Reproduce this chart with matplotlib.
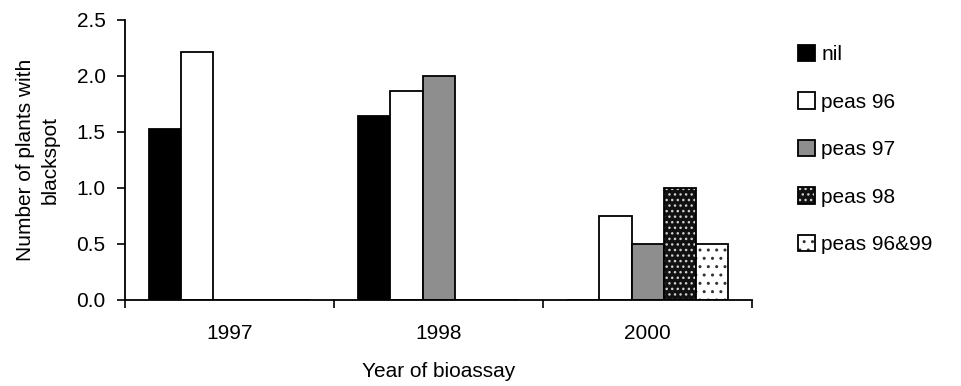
import matplotlib.pyplot as plt
from matplotlib.patches import Patch
import numpy as np

plt.rcParams['font.family'] = ['Liberation Sans', 'DejaVu Sans']
plt.rcParams['hatch.linewidth'] = 1.0

years = ['1997', '1998', '2000']
treatments = ['nil', 'peas 96', 'peas 97', 'peas 98', 'peas 96&99']

# mean number of plants with blackspot; 0 where the treatment was not in that bioassay
nil = [1.53, 1.64, 0.0]
peas96 = [2.21, 1.87, 0.75]
peas97 = [0.0, 2.0, 0.5]
peas98 = [0.0, 0.0, 1.0]
peas96_99 = [0.0, 0.0, 0.5]

series = [nil, peas96, peas97, peas98, peas96_99]
faces = ['black', 'white', '#8e8e8e', '#111111', 'white']
hatches = [None, None, None, '...', '..']
hatch_cols = ['black', 'black', 'black', '#d0d0d0', '#333333']

fs = 15

fig = plt.figure(figsize=(9.62, 3.86), dpi=100)
ax = fig.add_axes([0.13, 0.2228, 0.652, 0.7254])

x = np.arange(len(years))
w = 0.154
handles = []
for i, vals in enumerate(series):
    pos = x + (i - 2) * w
    # fill (and hatch, whose colour follows the edge colour)
    ax.bar(pos, vals, width=w, color=faces[i], edgecolor=hatch_cols[i],
           linewidth=0, hatch=hatches[i])
    # black outline on top
    ax.bar(pos, vals, width=w, fill=False, edgecolor='black', linewidth=1.3)
    fill = Patch(facecolor=faces[i], edgecolor=hatch_cols[i], linewidth=0,
                 hatch=hatches[i])
    edge = Patch(fill=False, edgecolor='black', linewidth=1.3)
    handles.append((fill, edge))

ax.set_xlim(-0.5, 2.5)
ax.set_ylim(0, 2.5)
yt = np.arange(0, 2.51, 0.5)
ax.set_yticks(yt)
ax.set_yticklabels(['%.1f' % v for v in yt])
ax.set_xticks(x)
ax.set_xticklabels(years)
ax.set_xticks([-0.5, 0.5, 1.5, 2.5], minor=True)
ax.tick_params(axis='x', which='major', length=0, pad=17, labelsize=fs)
ax.tick_params(axis='x', which='minor', length=6, width=1.2, direction='out')
ax.tick_params(axis='y', length=6, width=1.2, direction='out', labelsize=fs, pad=8)

ax.spines['top'].set_visible(False)
ax.spines['right'].set_visible(False)
ax.spines['left'].set_linewidth(1.3)
ax.spines['bottom'].set_linewidth(1.3)

ax.set_xlabel('Year of bioassay', fontsize=fs, labelpad=14)
ax.set_ylabel('Number of plants with\nblackspot', fontsize=fs, labelpad=12,
              linespacing=1.35)

fig.legend(handles=handles, labels=treatments, loc='upper left',
           bbox_to_anchor=(798 / 962, 1 - 45 / 386), frameon=False, fontsize=fs,
           handlelength=0.82, handleheight=0.82, handletextpad=0.3,
           labelspacing=1.35, borderpad=0, borderaxespad=0)

fig.savefig('out.png', dpi=100)
